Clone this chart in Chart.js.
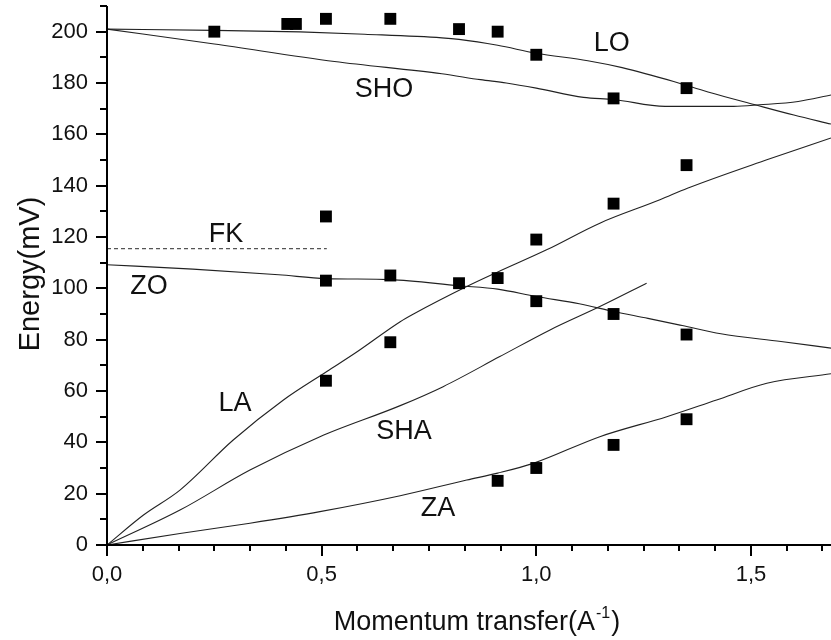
<!DOCTYPE html>
<html>
<head>
<meta charset="utf-8">
<script src="https://cdn.jsdelivr.net/npm/chart.js@4/dist/chart.umd.min.js"></script>
<style>
  html, body { margin: 0; padding: 0; background: #fff; }
  #c { display: block; }
</style>
</head>
<body>
<canvas id="c" width="831" height="640"></canvas>
<script>
const FONT = '"Liberation Sans", Arial, Helvetica, sans-serif';

// Measured phonon energies (squares)
const measQ = [0.25, 0.42, 0.44, 0.51, 0.66, 0.82, 0.91, 1.00, 1.18, 1.35,
               1.35, 1.18, 0.51, 1.00,
               0.51, 0.66, 0.82, 0.91, 1.00, 1.18, 1.35,
               0.66, 0.51,
               0.91, 1.00, 1.18, 1.35];
const measE = [200, 203, 203, 205, 205, 201, 200, 191, 174, 178,
               148, 133, 128, 119,
               103, 105, 102, 104, 95, 90, 82,
               79, 64,
               25, 30, 39, 49];

// Calculated dispersion branches
const loQ  = [0, 0.25, 0.45, 0.60, 0.78, 0.82, 0.91, 1.00, 1.12, 1.20, 1.32, 1.40, 1.51, 1.60, 1.6865];
const loE  = [201, 200.5, 199.9, 199, 197.6, 197, 194.7, 191.6, 188.7, 186, 180.6, 176.5, 171.5, 167.5, 164];

const shoQ = [0, 0.25, 0.53, 0.78, 0.87, 0.93, 1.00, 1.11, 1.18, 1.30, 1.46, 1.52, 1.61, 1.6865];
const shoE = [201, 195.2, 188.4, 183.6, 181.3, 180, 178, 174.4, 173.6, 170.9, 170.9, 171.5, 172.8, 175.3];

const zoQ  = [0, 0.20, 0.40, 0.51, 0.66, 0.82, 0.91, 1.00, 1.10, 1.18, 1.26, 1.34, 1.43, 1.57, 1.6865];
const zoE  = [109.2, 107.5, 105.3, 103.8, 103.4, 101, 99.7, 96.8, 94, 91, 88.3, 85.5, 82.3, 79.3, 76.7];

const laQ  = [0, 0.085, 0.17, 0.294, 0.411, 0.512, 0.58, 0.683, 0.714, 0.838, 0.908, 1.024, 1.148, 1.288, 1.352, 1.537, 1.6865];
const laE  = [0, 11.7, 21.4, 40.9, 56.5, 67.6, 75, 87, 90, 100.7, 106.2, 115, 125.4, 134.5, 139, 150.1, 158.6];

const shaQ = [0, 0.17, 0.333, 0.496, 0.683, 0.783, 0.915, 1.032, 1.148, 1.257];
const shaE = [0, 13.6, 29.2, 42.2, 54.3, 61.7, 73.4, 83.8, 92.9, 102];

const zaQ  = [0, 0.17, 0.333, 0.496, 0.683, 0.838, 0.91, 0.993, 1.148, 1.304, 1.42, 1.537, 1.6865];
const zaE  = [0, 4.5, 8.5, 13, 19.2, 25.3, 28, 31.8, 42.2, 50, 56.5, 63, 66.7];

const fkQ  = [0, 0.512];
const fkE  = [115.5, 115.5];

// Branch names and where they are written (data units)
const branchNames = ['LO', 'SHO', 'FK', 'ZO', 'LA', 'SHA', 'ZA'];
const branchNameQ = [1.176, 0.645, 0.277, 0.098, 0.298, 0.692, 0.771];
const branchNameE = [195.3, 177.4, 120.9, 100.7, 55.0, 44.1, 14.1];

// Axis ticks
const xMajorTicks = [0, 0.5, 1.0, 1.5];
const xTickLabels = ['0,0', '0,5', '1,0', '1,5'];
const yMajorTicks = [0, 20, 40, 60, 80, 100, 120, 140, 160, 180, 200];
const yTickLabels = ['0', '20', '40', '60', '80', '100', '120', '140', '160', '180', '200'];

const X_MAX = 1.6865;
const Y_MAX = 210;

const pts = (xs, ys) => xs.map((x, i) => ({ x: x, y: ys[i] }));

const curve = (xs, ys) => ({
  type: 'line',
  data: pts(xs, ys),
  showLine: true,
  borderColor: '#222',
  borderWidth: 1.1,
  pointRadius: 0,
  fill: false,
  cubicInterpolationMode: 'monotone',
  order: 2
});

// Axis lines, tick marks, titles and branch names
const decorations = {
  id: 'decorations',
  afterDraw(chart) {
    const { ctx, chartArea: a, scales: { x, y } } = chart;
    ctx.save();
    ctx.strokeStyle = '#000';
    ctx.lineWidth = 2;
    ctx.lineCap = 'butt';
    // axes
    ctx.beginPath();
    ctx.moveTo(a.left, a.top);
    ctx.lineTo(a.left, a.bottom + 1);
    ctx.moveTo(a.left - 1, a.bottom);
    ctx.lineTo(a.right, a.bottom);
    ctx.stroke();
    // x ticks: majors every 0.5, minors every 0.5/6
    ctx.beginPath();
    for (let k = 0; k * (0.5 / 6) <= X_MAX + 1e-9; k++) {
      const v = k * 0.5 / 6;
      const px = Math.round(x.getPixelForValue(v));
      const len = (k % 6 === 0) ? 11 : 6;
      ctx.moveTo(px, a.bottom);
      ctx.lineTo(px, a.bottom + len);
    }
    // y ticks: majors every 20, minors every 10
    for (let v = 0; v <= Y_MAX; v += 10) {
      const py = Math.round(y.getPixelForValue(v));
      const len = (v % 20 === 0) ? 11 : 7;
      ctx.moveTo(a.left, py);
      ctx.lineTo(a.left - len, py);
    }
    ctx.stroke();

    // branch names
    ctx.fillStyle = '#111';
    ctx.font = '27px ' + FONT;
    ctx.textAlign = 'center';
    ctx.textBaseline = 'middle';
    branchNames.forEach((t, i) => {
      ctx.fillText(t, x.getPixelForValue(branchNameQ[i]), y.getPixelForValue(branchNameE[i]));
    });

    // y title
    ctx.save();
    ctx.translate(31, 274);
    ctx.rotate(-Math.PI / 2);
    ctx.font = '29px ' + FONT;
    ctx.textAlign = 'center';
    ctx.textBaseline = 'middle';
    ctx.fillText('Energy(mV)', 0, 0);
    ctx.restore();

    // x title with superscript
    const big = '27px ' + FONT, small = '16px ' + FONT;
    const p1 = 'Momentum transfer(A', sup = '-1', p2 = ')';
    ctx.font = big; const w1 = ctx.measureText(p1).width, w3 = ctx.measureText(p2).width;
    ctx.font = small; const w2 = ctx.measureText(sup).width;
    let sx = 476 - (w1 + w2 + w3) / 2;
    const base = 630;
    ctx.textAlign = 'left';
    ctx.textBaseline = 'alphabetic';
    ctx.font = big; ctx.fillText(p1, sx, base); sx += w1;
    ctx.font = small; ctx.fillText(sup, sx + 1, base - 12); sx += w2 + 2;
    ctx.font = big; ctx.fillText(p2, sx, base);
    ctx.restore();
  }
};

new Chart(document.getElementById('c'), {
  type: 'scatter',
  data: {
    datasets: [
      {
        label: 'measured',
        data: pts(measQ, measE),
        pointStyle: 'rect',
        pointRadius: 8.4,
        pointBackgroundColor: '#000',
        pointBorderColor: '#000',
        pointBorderWidth: 0,
        showLine: false,
        order: 0
      },
      curve(loQ, loE),
      curve(shoQ, shoE),
      curve(zoQ, zoE),
      curve(laQ, laE),
      curve(shaQ, shaE),
      curve(zaQ, zaE),
      {
        type: 'line',
        data: pts(fkQ, fkE),
        showLine: true,
        borderColor: '#555',
        borderWidth: 1.3,
        borderDash: [4, 3],
        pointRadius: 0,
        fill: false,
        order: 2
      }
    ]
  },
  options: {
    responsive: false,
    animation: false,
    events: [],
    layout: { autoPadding: false, padding: { top: 6, right: 0, left: 0, bottom: 0 } },
    plugins: { legend: { display: false }, tooltip: { enabled: false } },
    scales: {
      x: {
        type: 'linear',
        min: 0,
        max: X_MAX,
        grid: { display: false, drawTicks: false },
        border: { display: false },
        afterBuildTicks(s) { s.ticks = xMajorTicks.map(v => ({ value: v })); },
        afterFit(s) { s.height = 95; s.paddingLeft = 0; s.paddingRight = 0; },
        ticks: {
          padding: 17,
          color: '#111',
          font: { family: FONT, size: 22 },
          maxRotation: 0,
          callback(v) { const i = xMajorTicks.indexOf(v); return i >= 0 ? xTickLabels[i] : ''; }
        }
      },
      y: {
        type: 'linear',
        min: 0,
        max: Y_MAX,
        grid: { display: false, drawTicks: false },
        border: { display: false },
        afterBuildTicks(s) { s.ticks = yMajorTicks.map(v => ({ value: v })); },
        afterFit(s) { s.width = 107; s.paddingTop = 0; s.paddingBottom = 0; },
        ticks: {
          padding: 19,
          color: '#111',
          font: { family: FONT, size: 22 },
          callback(v) { const i = yMajorTicks.indexOf(v); return i >= 0 ? yTickLabels[i] : ''; }
        }
      }
    }
  },
  plugins: [decorations]
});
</script>
</body>
</html>
